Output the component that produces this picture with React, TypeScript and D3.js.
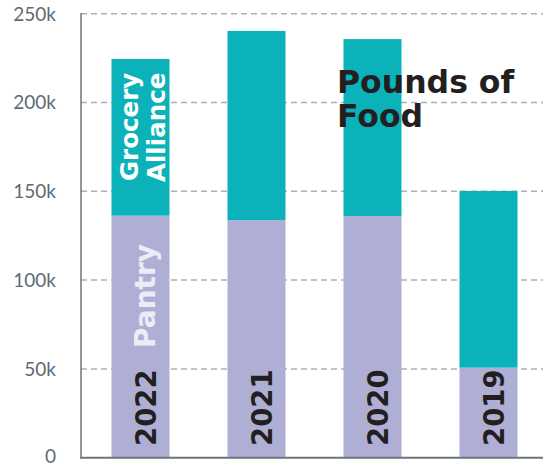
import React from "react";
import * as d3 from "d3";

const years = ["2022", "2021", "2020", "2019"];
const pantry = [136300, 133800, 136100, 50700];
const grocery = [88200, 106500, 99600, 99500];
const yTicks = [0, 50000, 100000, 150000, 200000, 250000];
const yTickLabels = ["0", "50k", "100k", "150k", "200k", "250k"];

const W = 543;
const H = 467;
const TEAL = "#0bb2b9";
const LAV = "#afafd6";
const AXIS = "#6b757d";
const GRID = "#acb1b7";

export default function App() {
  const y = d3.scaleLinear().domain([0, 250000]).range([457.7, 13.7]);
  const x = d3
    .scaleBand<string>()
    .domain(years)
    .range([82.5, 546.5])
    .paddingInner(0.5)
    .paddingOuter(0.25);
  const bw = x.bandwidth();
  const boldFont = "'DejaVu Sans', sans-serif";

  return (
    <div style={{ position: "absolute", left: 0, top: 0 }}>
      <svg width={W} height={H} style={{ display: "block" }}>
        <rect width={W} height={H} fill="#ffffff" />
        {yTicks.map((t, i) => (
          <g key={t}>
            {t > 0 && (
              <line
                x1={81}
                x2={W}
                y1={y(t)}
                y2={y(t)}
                stroke={GRID}
                strokeWidth={1.5}
                strokeDasharray="6 4"
              />
            )}
            <text
              x={56}
              y={t === 0 ? y(t) - 2 : y(t)}
              dy="0.36em"
              textAnchor="end"
              fontFamily="Lato, sans-serif"
              fontSize={19}
              fill="#5e6a73"
            >
              {yTickLabels[i]}
            </text>
          </g>
        ))}
        {years.map((yr, i) => {
          const x0 = x(yr)!;
          const p = pantry[i];
          const g = grocery[i];
          return (
            <g key={yr}>
              <rect x={x0} y={y(p)} width={bw} height={y(0) - y(p)} fill={LAV} />
              <rect x={x0} y={y(p + g)} width={bw} height={y(p) - y(p + g)} fill={TEAL} />
            </g>
          );
        })}
        <line x1={81} x2={81} y1={13} y2={458.5} stroke={AXIS} strokeWidth={1.5} />
        <line x1={80.3} x2={W} y1={457.8} y2={457.8} stroke={AXIS} strokeWidth={2} />
        {years.map((yr) => {
          const cx = x(yr)! + bw / 2;
          return (
            <text
              key={yr}
              transform={`translate(${cx + 15.5},446) rotate(-90)`}
              fontFamily={boldFont}
              fontWeight={700}
              fontSize={27.5}
              fill="#231f20"
            >
              {yr}
            </text>
          );
        })}
        <text
          transform={`translate(155,348) rotate(-90)`}
          fontFamily={boldFont}
          fontWeight={700}
          fontSize={28}
          fill="#ececf7"
        >
          Pantry
        </text>
        <text
          transform={`translate(138,181) rotate(-90)`}
          fontFamily={boldFont}
          fontWeight={700}
          fontSize={24.5}
          fill="#ffffff"
        >
          Grocery
        </text>
        <text
          transform={`translate(165,182) rotate(-90)`}
          fontFamily={boldFont}
          fontWeight={700}
          fontSize={24.5}
          fill="#ffffff"
        >
          Alliance
        </text>
        <text x={337} y={93} fontFamily={boldFont} fontWeight={700} fontSize={31.5} fill="#231f20">
          Pounds of
        </text>
        <text x={337} y={127} fontFamily={boldFont} fontWeight={700} fontSize={31.5} fill="#231f20">
          Food
        </text>
      </svg>
    </div>
  );
}
